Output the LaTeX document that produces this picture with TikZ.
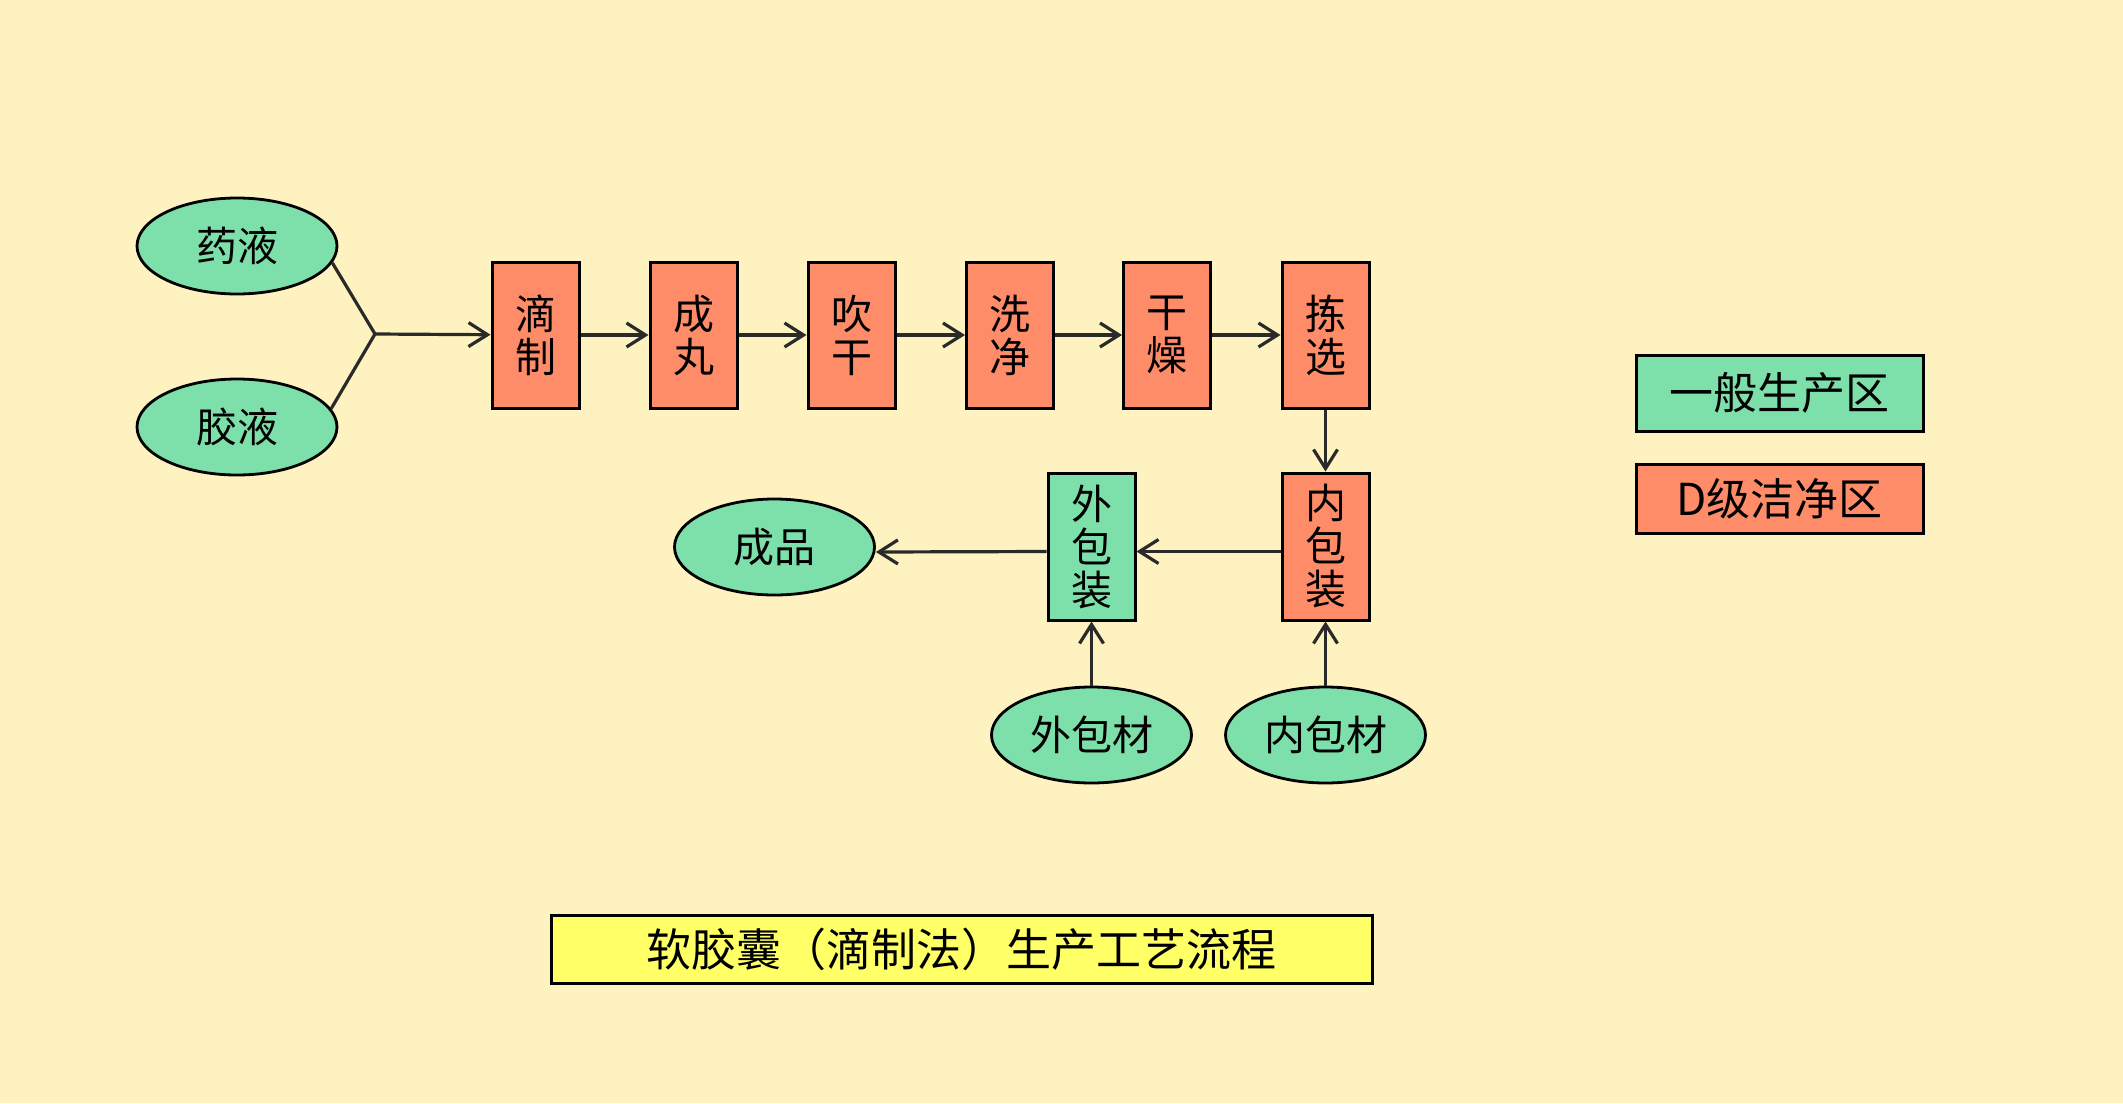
\documentclass[tikz,border=0pt]{standalone}
\usepackage{fontspec}
\newfontfamily\cjk{Noto Sans CJK SC}
\usetikzlibrary{shapes.geometric,arrows.meta}
\definecolor{bgc}{HTML}{FEF3C0}
\definecolor{grn}{HTML}{7DDFA9}
\definecolor{sal}{HTML}{FF8C69}
\definecolor{ylw}{HTML}{FFFF66}
\definecolor{lnc}{HTML}{2A2A2A}
\begin{document}
\begin{tikzpicture}[x=0.5pt,y=-0.5pt,
  stepbox/.style={draw=black, line width=1.5pt, fill=sal, minimum width=43.5pt, minimum height=73pt, inner sep=0pt, align=center, font=\cjk\fontsize{20.5}{21.5}\selectfont},
  greenbox/.style={stepbox, fill=grn},
  oval/.style={ellipse, draw=black, line width=1.4pt, fill=grn, minimum width=100pt, minimum height=48pt, inner sep=0pt, font=\cjk\fontsize{20.5}{21.5}\selectfont},
  legendbox/.style={draw=black, line width=1.5pt, minimum width=143.5pt, inner sep=0pt, font=\cjk\fontsize{22}{24}\selectfont},
  link/.style={draw=lnc, line width=1.6pt},
  arr/.style={link, -{Straight Barb[length=9.5pt,width=12pt]}}
]
\fill[bgc] (0,0) rectangle (2123,1103);
\useasboundingbox (0,0) rectangle (2123,1103);

\node[oval] (y1) at (237,246) {药液};
\node[oval] (y2) at (237,427) {胶液};
\coordinate (j) at (375,334);

\node[stepbox] (b1) at (535.5,335) {滴\\制};
\node[stepbox] (b2) at (693.5,335) {成\\丸};
\node[stepbox] (b3) at (851.5,335) {吹\\干};
\node[stepbox] (b4) at (1010,335) {洗\\净};
\node[stepbox] (b5) at (1167,335) {干\\燥};
\node[stepbox] (b6) at (1325.5,335) {拣\\选};

\node[stepbox, minimum height=73.5pt] (p1) at (1325.5,546.5) {内\\包\\装};
\node[greenbox, minimum height=73.5pt] (p2) at (1091.5,546.5) {外\\包\\装};

\node[oval] (cp) at (774.5,547) {成品};
\node[oval] (m2) at (1091.5,735) {外包材};
\node[oval] (m1) at (1325.5,735) {内包材};

\node[legendbox, fill=grn, minimum height=38pt] (lg) at (1779.5,393) {一般生产区};
\node[legendbox, fill=sal, minimum height=34.5pt] (ld) at (1779.5,498.5) {D级洁净区};

\node[draw=black, line width=1.5pt, fill=ylw, minimum width=410.5pt, minimum height=34pt, inner sep=0pt, font=\cjk\fontsize{22.5}{24}\selectfont] (title) at (961.5,949) {软胶囊（滴制法）生产工艺流程};

\draw[link] (y1.-10) -- (j);
\draw[link] (y2.11) -- (j);
\draw[arr] (j) -- (b1);
\draw[arr] (b1) -- (b2);
\draw[arr] (b2) -- (b3);
\draw[arr] (b3) -- (b4);
\draw[arr] (b4) -- (b5);
\draw[arr] (b5) -- (b6);
\draw[arr] (b6) -- (p1);
\draw[arr] ([yshift=-2.5pt]p1.west) -- ([yshift=-2.5pt]p2.east);
\draw[arr] ([yshift=-2.5pt]p2.west) -- ([yshift=-2.5pt]cp.east);
\draw[arr] (m2) -- (p2);
\draw[arr] (m1) -- (p1);
\end{tikzpicture}
\end{document}
